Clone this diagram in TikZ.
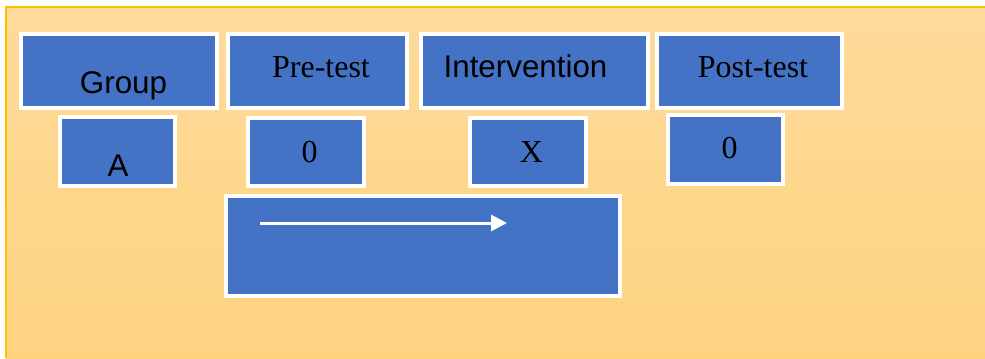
\documentclass[tikz,border=0pt]{standalone}
\usepackage{fontspec}
\setmainfont{Liberation Serif}
\newfontfamily\arialfont{Liberation Sans}
\usetikzlibrary{arrows.meta}
\definecolor{boxblue}{RGB}{68,114,196}
\definecolor{bgtop}{RGB}{254,219,155}
\definecolor{bgbottom}{RGB}{254,211,128}
\definecolor{edgegold}{RGB}{255,192,0}
\tikzset{
  box/.style={rectangle, draw=white, fill=boxblue, line width=3pt, inner sep=0pt},
  sanslabel/.style={anchor=base, inner sep=0pt, font=\arialfont\fontsize{23.5}{28}\selectfont},
  seriflabel/.style={anchor=base, inner sep=0pt, font=\fontsize{24}{28}\selectfont},
  flow/.style={draw=white, line width=2.25pt, -{Triangle[length=12pt,width=12pt]}}
}
\begin{document}
\begin{tikzpicture}[x=0.75pt, y=-0.75pt]
\useasboundingbox (0,0) rectangle (985,358);
% slide background
\fill[top color=bgtop, bottom color=bgbottom] (6,7) rectangle (985,358);
\draw[edgegold, line width=0.9pt] (6,358) |- (985,7);

% header row
\node[box, minimum width=147pt, minimum height=55.5pt] (group) at (119,71) {};
\node[box, minimum width=134.25pt, minimum height=55.5pt] (pre) at (317.5,71) {};
\node[box, minimum width=170.25pt, minimum height=55.5pt] (interv) at (534.5,71) {};
\node[box, minimum width=138.75pt, minimum height=55.5pt] (post) at (749.5,71) {};

% value row
\node[box, minimum width=86.25pt, minimum height=51.75pt] (grpA) at (117.5,151.5) {};
\node[box, minimum width=87pt, minimum height=51pt] (preval) at (306,152) {};
\node[box, minimum width=87pt, minimum height=51pt] (intval) at (528,152) {};
\node[box, minimum width=86.25pt, minimum height=51.75pt] (postval) at (725.5,149.5) {};

% time line box
\node[box, minimum width=295.5pt, minimum height=75pt] (timeline) at (423,246) {};
\coordinate (tstart) at (260,223);
\coordinate (tend) at (507,223);
\draw[flow] (tstart) -- (tend);

% labels
\node[sanslabel] (groupT) at (123.5,93) {Group};
\node[seriflabel] (preT) at (321,77) {Pre-test};
\node[sanslabel] (intervT) at (525.5,77) {Intervention};
\node[seriflabel] (postT) at (753,77) {Post-test};
\node[sanslabel] (grpAT) at (118,176) {A};
\node[seriflabel] (prevalT) at (309.5,162) {0};
\node[seriflabel] (intvalT) at (531.5,162) {X};
\node[seriflabel] (postvalT) at (729.5,158) {0};
\end{tikzpicture}
\end{document}
